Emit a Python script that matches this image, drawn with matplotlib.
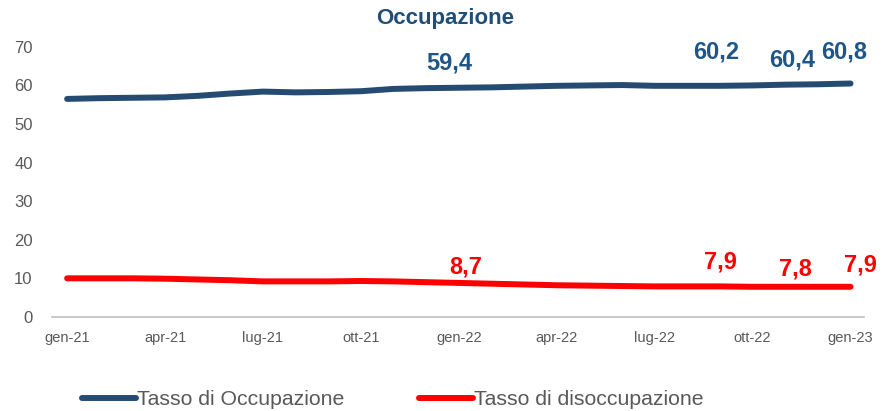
import matplotlib.pyplot as plt
import numpy as np

# Monthly data, gen-21 .. gen-23
months = ["gen-21", "feb-21", "mar-21", "apr-21", "mag-21", "giu-21", "lug-21", "ago-21",
          "set-21", "ott-21", "nov-21", "dic-21", "gen-22", "feb-22", "mar-22", "apr-22",
          "mag-22", "giu-22", "lug-22", "ago-22", "set-22", "ott-22", "nov-22", "dic-22",
          "gen-23"]
occupazione = [56.5, 56.7, 56.8, 56.9, 57.3, 57.9, 58.4, 58.2, 58.3, 58.5, 59.1, 59.3,
               59.4, 59.5, 59.7, 59.9, 60.0, 60.1, 59.9, 59.9, 59.9, 60.0, 60.2, 60.3, 60.5]
disoccupazione = [10.0, 10.0, 10.0, 9.9, 9.7, 9.5, 9.2, 9.2, 9.2, 9.3, 9.2, 9.0,
                  8.8, 8.6, 8.4, 8.2, 8.1, 8.0, 7.9, 7.9, 7.9, 7.8, 7.8, 7.8, 7.8]

tick_every = 3
yticks = [0, 10, 20, 30, 40, 50, 60, 70]

# manual value labels: (month index, text y, text)
occ_labels = [(11.7, 65.8, "59,4"), (19.9, 68.7, "60,2"), (22.2, 66.6, "60,4"), (23.8, 68.7, "60,8")]
dis_labels = [(12.2, 13.0, "8,7"), (20.0, 14.3, "7,9"), (22.3, 12.5, "7,8"), (24.3, 13.5, "7,9")]

blue = "#264B73"
blue_txt = "#1F5688"
red = "#FF0000"
gray = "#595959"

plt.rcParams['font.family'] = ['Liberation Sans', 'DejaVu Sans']

fig = plt.figure(figsize=(8.83, 4.11), dpi=100)
ax = fig.add_axes([0.059, 0.229, 0.919, 0.657])

x = np.arange(len(months))
l1, = ax.plot(x, occupazione, color=blue, lw=4.3, solid_capstyle='round', label="Tasso di Occupazione")
l2, = ax.plot(x, disoccupazione, color=red, lw=4.3, solid_capstyle='round', label="Tasso di disoccupazione")

for xi, yi, t in occ_labels:
    ax.text(xi, yi, t, color=blue_txt, fontsize=17, fontweight='bold', ha='center', va='center')
for xi, yi, t in dis_labels:
    ax.text(xi, yi, t, color=red, fontsize=17, fontweight='bold', ha='center', va='center')

ax.set_xlim(-0.46, 24.4)
ax.set_ylim(0, 70)
ax.set_xticks(x[::tick_every])
ax.set_xticklabels(months[::tick_every], fontsize=10.5, color=gray,
                   family=['Liberation Sans Narrow', 'Liberation Sans'])
ax.set_yticks(yticks)
ax.set_yticklabels([str(v) for v in yticks], fontsize=12, color=gray)
ax.tick_params(axis='x', length=0, pad=10)
ax.tick_params(axis='y', length=0, pad=14)

for s in ['top', 'right', 'left']:
    ax.spines[s].set_visible(False)
ax.spines['bottom'].set_color('#BFBFBF')
ax.spines['bottom'].set_linewidth(1.2)

fig.text(0.504, 0.955, "Occupazione", color="#1F4E79", fontsize=16, fontweight='bold',
         ha='center', va='center')

fig.legend(handles=[l1, l2], loc='center left', bbox_to_anchor=(0.093, 0.027), ncol=2,
           frameon=False, fontsize=15.3, labelcolor=gray, handlelength=2.55,
           handletextpad=0.05, columnspacing=3.5, borderpad=0, borderaxespad=0)

fig.savefig("out.png", dpi=100)
